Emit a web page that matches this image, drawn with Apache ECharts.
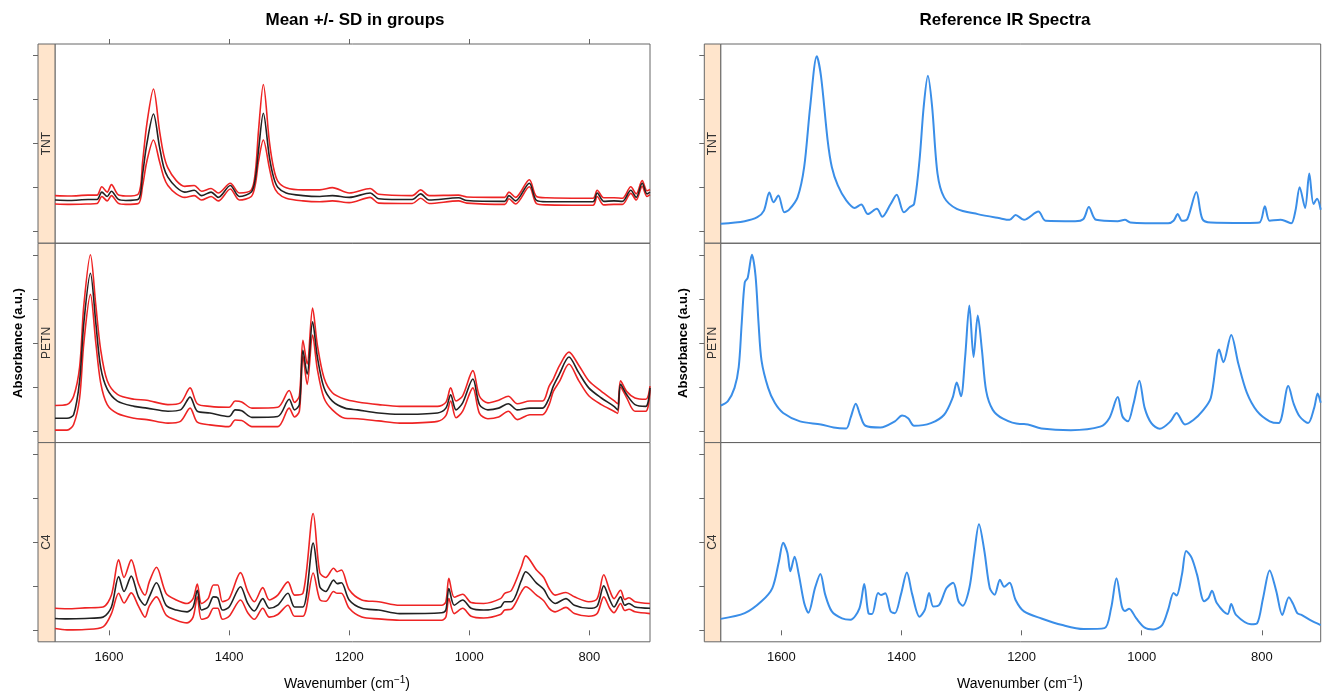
<!DOCTYPE html>
<html lang="en">
<head>
    <meta charset="UTF-8">
    <title>Mean +/- SD in groups / Reference IR Spectra</title>
    <script src="https://cdn.jsdelivr.net/npm/echarts@6/dist/echarts.min.js"></script>
    <style>
        html, body { margin: 0; padding: 0; background: #fff; }
    </style>
</head>
<body>
<div id="main" style="width: 1325px;height:695px;"></div>

<script type="text/javascript">
    // groups (strip labels) and ticks
    var groups = ['TNT', 'PETN', 'C4'];
    var xTicks = [800, 1000, 1200, 1400, 1600];
    var yTicks = [0, 1, 2, 3, 4];

    // ---- left: measured spectra, mean and mean +/- SD ----
    var tntWnL   = [1690,1665,1635,1620,1612,1603,1596,1585,1572,1551,1544,1537,1526,1516,1509,1502,1488,1474,1458,1446,1430,1418,1398,1383,1363,1356,1351,1343,1333,1326,1319,1305,1277,1249,1228,1200,1165,1151,1095,1081,1067,1018,1004,941,934,923,900,888,871,794,787,776,759,745,731,722,712,704,699];
    var tntMeanL = [0.72,0.71,0.73,0.73,0.90,0.80,0.92,0.74,0.71,0.74,1.32,2.00,2.67,1.93,1.47,1.24,1.01,0.90,0.94,0.82,0.90,0.78,1.05,0.80,0.90,1.24,1.85,2.69,1.70,1.24,1.01,0.88,0.82,0.80,0.82,0.78,0.88,0.75,0.73,0.86,0.72,0.77,0.71,0.69,0.82,0.70,1.10,0.71,0.68,0.68,0.88,0.69,0.70,0.69,0.94,0.78,1.10,0.86,0.90];
    var tntHiL   = [0.82,0.81,0.83,0.83,1.02,0.90,1.07,0.84,0.81,0.86,1.60,2.45,3.24,2.30,1.75,1.45,1.16,1.03,1.05,0.92,0.98,0.88,1.10,0.88,0.95,1.40,2.30,3.34,2.05,1.45,1.15,1.00,0.95,0.95,1.00,0.88,0.98,0.85,0.82,0.95,0.82,0.83,0.79,0.78,0.90,0.78,1.18,0.80,0.77,0.76,0.94,0.77,0.77,0.76,1.02,0.86,1.16,0.93,0.96];
    var tntLoL   = [0.63,0.62,0.63,0.64,0.80,0.70,0.82,0.65,0.62,0.64,1.05,1.60,2.08,1.60,1.25,1.05,0.86,0.78,0.82,0.72,0.80,0.70,0.97,0.72,0.80,1.10,1.60,2.08,1.45,1.05,0.88,0.76,0.70,0.68,0.70,0.66,0.78,0.65,0.64,0.76,0.64,0.70,0.65,0.62,0.75,0.63,1.02,0.64,0.61,0.60,0.80,0.61,0.62,0.62,0.87,0.72,1.03,0.80,0.84];

    var petnWnL   = [1690,1670,1659,1649,1642,1631,1622,1614,1603,1586,1558,1537,1502,1481,1465,1453,1432,1400,1390,1379,1362,1319,1300,1291,1283,1277,1270,1261,1253,1242,1228,1207,1186,1151,1116,1053,1039,1031,1022,1011,994,983,969,951,935,920,899,878,867,860,850,834,818,801,780,759,753,748,738,724,706,699];
    var petnMeanL = [0.29,0.29,0.37,1.14,2.45,3.58,2.45,1.45,0.95,0.68,0.56,0.52,0.45,0.48,0.77,0.45,0.41,0.33,0.48,0.46,0.31,0.33,0.72,0.48,0.60,1.83,1.29,2.48,1.68,0.98,0.68,0.52,0.48,0.41,0.38,0.41,0.52,0.82,0.48,0.64,1.18,0.60,0.48,0.52,0.62,0.48,0.52,0.52,0.75,1.02,1.29,1.68,1.33,0.98,0.75,0.56,0.48,1.06,0.83,0.60,0.56,0.98];
    var petnHiL   = [0.58,0.60,0.79,1.45,2.85,4.00,2.85,1.85,1.14,0.83,0.72,0.70,0.60,0.64,0.98,0.62,0.56,0.54,0.68,0.66,0.52,0.54,0.92,0.65,0.80,2.06,1.52,2.79,1.95,1.21,0.87,0.72,0.66,0.60,0.56,0.56,0.65,0.98,0.68,0.80,1.37,0.79,0.64,0.70,0.79,0.62,0.68,0.68,1.02,1.18,1.48,1.79,1.50,1.14,0.90,0.69,0.62,1.14,0.90,0.75,0.72,1.02];
    var petnLoL   = [0.02,0.02,0.15,0.75,2.00,3.10,2.00,1.10,0.60,0.40,0.29,0.26,0.18,0.22,0.52,0.20,0.14,0.10,0.25,0.24,0.10,0.10,0.52,0.32,0.45,1.70,1.06,2.18,1.40,0.75,0.48,0.29,0.28,0.23,0.18,0.22,0.35,0.68,0.30,0.45,0.98,0.40,0.28,0.32,0.45,0.26,0.37,0.37,0.60,0.90,1.12,1.52,1.15,0.80,0.60,0.45,0.40,1.00,0.76,0.45,0.45,0.94];

    var c4WnL   = [1690,1670,1640,1610,1596,1584,1575,1563,1551,1540,1533,1521,1505,1488,1470,1460,1453,1446,1435,1426,1419,1411,1400,1381,1369,1358,1344,1333,1319,1302,1291,1277,1260,1249,1239,1226,1220,1213,1200,1179,1151,1116,1046,1039,1034,1025,1011,997,976,948,941,930,913,906,888,876,867,857,839,825,801,787,776,766,759,748,741,734,724,699];
    var c4MeanL = [0.27,0.26,0.27,0.30,0.53,1.22,0.88,1.23,0.76,0.57,0.76,1.08,0.57,0.46,0.42,0.53,0.91,0.46,0.53,0.76,0.74,0.46,0.53,0.99,0.61,0.44,0.72,0.50,0.57,0.84,0.53,0.53,1.98,0.99,0.88,1.14,1.06,1.08,0.69,0.50,0.46,0.38,0.40,0.46,0.95,0.57,0.69,0.50,0.46,0.53,0.65,0.65,1.14,1.33,1.07,0.93,0.72,0.61,0.72,0.57,0.50,0.55,1.01,0.69,0.53,0.76,0.57,0.61,0.53,0.50];
    var c4HiL   = [0.50,0.49,0.51,0.53,0.80,1.60,1.20,1.60,1.06,0.80,1.10,1.43,0.84,0.69,0.61,0.72,1.05,0.61,0.72,1.03,1.03,0.65,0.72,1.31,0.88,0.65,0.97,0.69,0.80,1.10,0.80,0.84,2.65,1.31,1.20,1.41,1.33,1.37,0.92,0.69,0.65,0.57,0.57,0.65,1.18,0.75,0.82,0.63,0.61,0.72,0.84,0.90,1.45,1.69,1.37,1.20,0.95,0.80,0.86,0.76,0.65,0.72,1.26,0.90,0.72,0.91,0.70,0.74,0.65,0.61];
    var c4LoL   = [0.04,0.01,0.02,0.08,0.38,0.84,0.62,0.85,0.55,0.30,0.55,0.76,0.35,0.23,0.17,0.30,0.76,0.25,0.30,0.50,0.50,0.25,0.32,0.69,0.40,0.25,0.50,0.30,0.36,0.57,0.32,0.32,1.30,0.70,0.66,0.88,0.84,0.84,0.50,0.30,0.26,0.23,0.23,0.30,0.72,0.38,0.50,0.32,0.28,0.36,0.46,0.48,0.88,0.99,0.80,0.67,0.50,0.42,0.52,0.38,0.32,0.38,0.76,0.50,0.40,0.61,0.45,0.48,0.42,0.38];

    // ---- right: reference spectra ----
    var tntWnR = [1701,1661,1640,1629,1620,1613,1605,1595,1587,1573,1562,1552,1541,1534,1523,1516,1506,1492,1478,1467,1456,1441,1432,1418,1408,1396,1386,1379,1370,1363,1356,1349,1340,1329,1308,1273,1238,1220,1210,1196,1172,1160,1111,1097,1088,1076,1040,1028,1019,956,947,940,933,924,909,899,885,829,804,795,787,769,762,751,744,737,728,721,714,708,702];
    var tntRef = [0.18,0.24,0.33,0.48,0.89,0.67,0.82,0.44,0.50,0.78,1.47,2.84,3.98,3.53,2.08,1.47,1.05,0.71,0.54,0.62,0.40,0.52,0.34,0.63,0.84,0.44,0.56,0.63,1.62,2.84,3.54,2.84,1.32,0.78,0.52,0.40,0.31,0.27,0.38,0.27,0.46,0.25,0.24,0.29,0.56,0.27,0.24,0.27,0.21,0.19,0.25,0.40,0.25,0.29,0.90,0.29,0.21,0.20,0.21,0.58,0.25,0.27,0.25,0.19,0.48,1.01,0.54,1.32,0.63,0.75,0.50];

    var petnWnR = [1701,1689,1678,1671,1666,1661,1656,1649,1643,1638,1633,1622,1611,1597,1569,1534,1513,1492,1485,1476,1469,1460,1435,1411,1399,1389,1379,1351,1329,1315,1308,1301,1294,1287,1280,1273,1266,1259,1248,1231,1203,1196,1167,1118,1069,1054,1040,1032,1023,1014,1004,995,984,970,952,942,928,914,899,885,871,864,851,839,825,808,787,772,756,747,737,723,713,707,702];
    var petnRef = [0.58,0.68,0.98,1.45,2.45,3.37,3.48,4.00,3.52,2.45,1.60,0.98,0.64,0.41,0.22,0.15,0.08,0.06,0.29,0.62,0.37,0.12,0.08,0.22,0.35,0.29,0.12,0.18,0.37,0.75,1.10,0.79,1.68,2.85,1.68,2.62,1.83,0.91,0.48,0.28,0.16,0.16,0.06,0.02,0.10,0.29,0.77,0.33,0.22,0.60,1.14,0.52,0.18,0.05,0.22,0.41,0.15,0.25,0.45,0.75,1.85,1.56,2.18,1.52,0.87,0.45,0.22,0.18,1.02,0.62,0.33,0.18,0.52,0.85,0.64];

    var c4WnR = [1701,1661,1633,1615,1604,1597,1590,1585,1578,1571,1562,1555,1544,1535,1527,1516,1499,1485,1470,1462,1455,1449,1439,1434,1427,1418,1411,1401,1391,1382,1370,1361,1354,1347,1337,1325,1314,1305,1298,1287,1279,1271,1262,1253,1245,1236,1229,1220,1210,1196,1167,1132,1097,1062,1051,1042,1033,1028,1021,1009,995,981,966,956,947,942,933,926,917,908,896,889,883,875,857,851,843,818,808,798,787,776,766,755,748,741,734,720,702];
    var c4Ref = [0.26,0.39,0.66,0.96,1.57,1.99,1.76,1.34,1.67,1.27,0.62,0.40,0.96,1.28,0.81,0.43,0.27,0.24,0.50,1.05,0.39,0.37,0.85,0.80,0.84,0.43,0.39,0.81,1.31,0.81,0.31,0.47,0.85,0.54,0.58,0.96,1.08,0.66,0.56,0.96,1.73,2.41,1.80,0.96,0.81,1.15,0.99,1.08,0.69,0.43,0.27,0.12,0.03,0.05,0.50,1.18,0.54,0.44,0.49,0.27,0.06,0.02,0.12,0.47,0.85,0.79,1.27,1.80,1.65,1.27,0.66,0.73,0.90,0.62,0.37,0.60,0.35,0.14,0.16,0.73,1.36,0.89,0.35,0.75,0.60,0.39,0.35,0.24,0.12];

    var wnL = [tntWnL, petnWnL, c4WnL];
    var meanL = [tntMeanL, petnMeanL, c4MeanL];
    var hiL = [tntHiL, petnHiL, c4HiL];
    var loL = [tntLoL, petnLoL, c4LoL];
    var wnR = [tntWnR, petnWnR, c4WnR];
    var refR = [tntRef, petnRef, c4Ref];

    var FONT = '"Liberation Sans", Arial, sans-serif';
    var FRAME = '#666';
    var RED = '#ee2424', BLACK = '#222', BLUE = '#3a8ee8';

    function pairs(xs, ys) {
        return xs.map(function (x, i) { return [x, ys[i]]; });
    }

    // layout of the two lattice-like figures
    var panelTop = [44, 243.3, 442.6];
    var panelH = 199.2;
    var sides = [
        { plotLeft: 55, plotW: 595, stripLeft: 38, min: 699, max: 1690 },
        { plotLeft: 720.7, plotW: 600, stripLeft: 704.3, min: 702, max: 1701 }
    ];

    var grids = [], xAxes = [], yAxes = [], series = [], graphics = [];

    sides.forEach(function (s, side) {
        for (var i = 0; i < 3; i++) {
            var idx = side * 3 + i;
            var bottom = (i === 2);
            grids.push({
                left: s.plotLeft, top: panelTop[i], width: s.plotW, height: panelH,
                show: true, borderColor: FRAME, borderWidth: 1, backgroundColor: 'transparent'
            });
            xAxes.push({
                type: 'value', gridIndex: idx, inverse: true, min: s.min, max: s.max,
                axisLine: { show: false },
                axisTick: { show: bottom, customValues: xTicks, length: 5, lineStyle: { color: FRAME } },
                axisLabel: {
                    show: bottom, customValues: xTicks, fontSize: 13, color: '#111', fontFamily: FONT, margin: 9,
                    formatter: function (v) { return String(v); }
                },
                splitLine: { show: false }
            });
            yAxes.push({
                type: 'value', gridIndex: idx, min: -0.26, max: 4.26, offset: s.plotLeft - s.stripLeft,
                axisLine: { show: false },
                axisTick: { show: true, customValues: yTicks, length: 5, lineStyle: { color: FRAME } },
                axisLabel: { show: false },
                splitLine: { show: false }
            });

            // strip on the left of each panel
            graphics.push({
                type: 'rect', silent: true,
                shape: { x: s.stripLeft, y: panelTop[i], width: s.plotLeft - s.stripLeft, height: panelH },
                style: { fill: '#ffe5cc', stroke: FRAME, lineWidth: 1 }
            });
            graphics.push({
                type: 'text', silent: true,
                x: (s.stripLeft + s.plotLeft) / 2, y: panelTop[i] + panelH / 2, rotation: Math.PI / 2,
                style: { text: groups[i], align: 'center', verticalAlign: 'middle', font: '12px ' + FONT, fill: '#333' }
            });

            if (side === 0) {
                series.push({ type: 'line', xAxisIndex: idx, yAxisIndex: idx, data: pairs(wnL[i], hiL[i]),
                    showSymbol: false, smooth: 0.3, lineStyle: { color: RED, width: 1.6 } });
                series.push({ type: 'line', xAxisIndex: idx, yAxisIndex: idx, data: pairs(wnL[i], loL[i]),
                    showSymbol: false, smooth: 0.3, lineStyle: { color: RED, width: 1.6 } });
                series.push({ type: 'line', xAxisIndex: idx, yAxisIndex: idx, data: pairs(wnL[i], meanL[i]),
                    showSymbol: false, smooth: 0.3, lineStyle: { color: BLACK, width: 1.6 } });
            } else {
                series.push({ type: 'line', xAxisIndex: idx, yAxisIndex: idx, data: pairs(wnR[i], refR[i]),
                    showSymbol: false, smooth: 0.3, lineStyle: { color: BLUE, width: 2 } });
            }
        }
    });

    // ticks on top of the left figure
    xAxes.push({
        type: 'value', gridIndex: 0, position: 'top', inverse: true, min: sides[0].min, max: sides[0].max,
        axisLine: { show: false },
        axisTick: { show: true, customValues: xTicks, length: 5, lineStyle: { color: FRAME } },
        axisLabel: { show: false },
        splitLine: { show: false }
    });

    // titles and axis names
    graphics.push({ type: 'text', silent: true, x: 355, y: 20,
        style: { text: 'Mean +/- SD in groups', align: 'center', verticalAlign: 'middle', font: 'bold 17px ' + FONT, fill: '#000' } });
    graphics.push({ type: 'text', silent: true, x: 1005, y: 20,
        style: { text: 'Reference IR Spectra', align: 'center', verticalAlign: 'middle', font: 'bold 17px ' + FONT, fill: '#000' } });
    [18, 683].forEach(function (x) {
        graphics.push({ type: 'text', silent: true, x: x, y: 343, rotation: Math.PI / 2,
            style: { text: 'Absorbance (a.u.)', align: 'center', verticalAlign: 'middle', font: 'bold 13px ' + FONT, fill: '#000' } });
    });
    [347, 1020].forEach(function (x) {
        graphics.push({ type: 'text', silent: true, x: x, y: 684,
            style: {
                text: 'Wavenumber (cm{s|\u22121})', align: 'center', verticalAlign: 'middle',
                font: '14px ' + FONT, fill: '#000',
                rich: { s: { fontSize: 10, fontFamily: FONT, verticalAlign: 'top', padding: [0, 0, 7, 0] } }
            } });
    });

    var myChart = echarts.init(document.getElementById('main'));
    myChart.setOption({
        animation: false,
        backgroundColor: '#fff',
        grid: grids,
        xAxis: xAxes,
        yAxis: yAxes,
        series: series,
        graphic: { elements: graphics }
    });
</script>
</body>
</html>
